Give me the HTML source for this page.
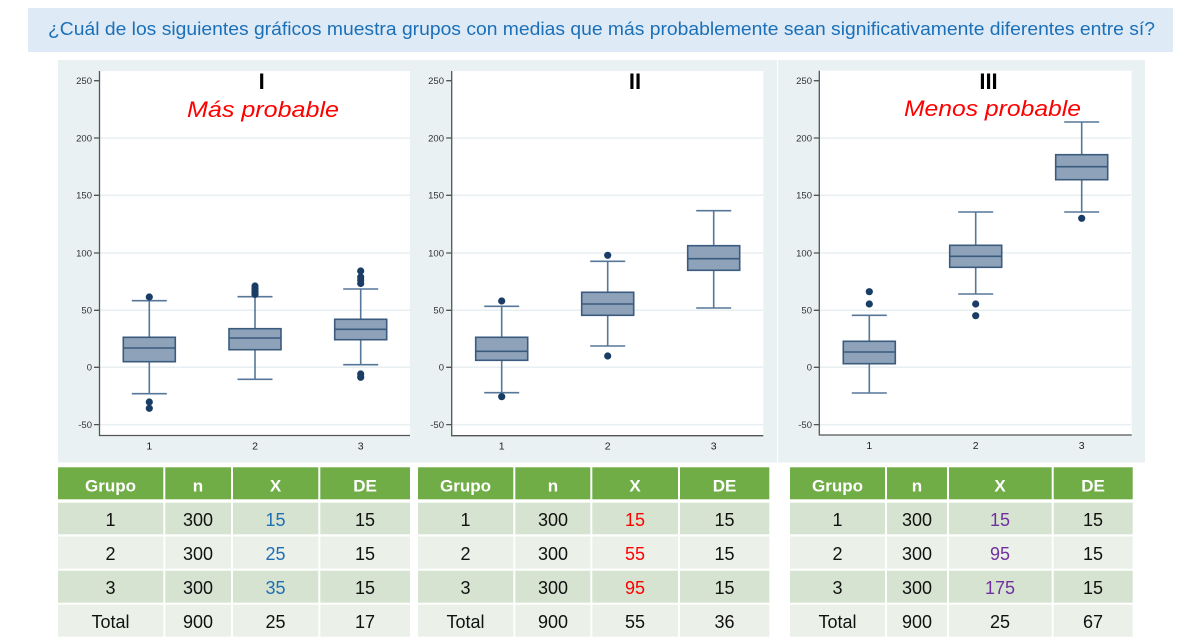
<!DOCTYPE html>
<html><head><meta charset="utf-8"><style>
html,body{margin:0;padding:0;background:#fff;}
svg{display:block;}
</style></head><body>
<svg width="1187" height="644" viewBox="0 0 1187 644" xmlns="http://www.w3.org/2000/svg">
<rect x="0" y="0" width="1187" height="644" fill="#ffffff"/>
<!-- Banner -->
<rect x="28" y="8" width="1145" height="44" fill="#deeaf5"/>
<text x="48" y="35" font-family="Liberation Sans, sans-serif" font-size="18.5" fill="#1b70b8" textLength="1107" lengthAdjust="spacingAndGlyphs">¿Cuál de los siguientes gráficos muestra grupos con medias que más probablemente sean significativamente diferentes entre sí?</text>

<!-- Panel background -->
<rect x="58" y="60" width="1087" height="402.5" fill="#e9f1f3"/>
<line x1="777.5" y1="60" x2="777.5" y2="462.5" stroke="#ffffff" stroke-width="1.2"/>

<!-- Plot areas -->
<rect x="99.5" y="71" width="310.5" height="364.5" fill="#ffffff"/>
<rect x="451.7" y="71" width="311.6" height="364.7" fill="#ffffff"/>
<rect x="819.3" y="70.7" width="312.4" height="364.3" fill="#ffffff"/>

<g stroke="#e8eff2" stroke-width="1.5">
  <!-- chart I grid -->
  <line x1="100" y1="138" x2="410" y2="138"/><line x1="100" y1="195.3" x2="410" y2="195.3"/>
  <line x1="100" y1="253" x2="410" y2="253"/><line x1="100" y1="310.3" x2="410" y2="310.3"/>
  <line x1="100" y1="367.3" x2="410" y2="367.3"/><line x1="100" y1="424.6" x2="410" y2="424.6"/>
  <!-- chart II grid -->
  <line x1="452" y1="138" x2="763" y2="138"/><line x1="452" y1="195.3" x2="763" y2="195.3"/>
  <line x1="452" y1="253" x2="763" y2="253"/><line x1="452" y1="310.3" x2="763" y2="310.3"/>
  <line x1="452" y1="367.3" x2="763" y2="367.3"/><line x1="452" y1="424.6" x2="763" y2="424.6"/>
  <!-- chart III grid -->
  <line x1="820" y1="138" x2="1131" y2="138"/><line x1="820" y1="195.3" x2="1131" y2="195.3"/>
  <line x1="820" y1="253" x2="1131" y2="253"/><line x1="820" y1="310.3" x2="1131" y2="310.3"/>
  <line x1="820" y1="367.3" x2="1131" y2="367.3"/><line x1="820" y1="424.6" x2="1131" y2="424.6"/>
</g>

<!-- Axes -->
<g stroke="#555" stroke-width="1.3" fill="none">
  <polyline points="99.5,71 99.5,435.5 410,435.5"/>
  <polyline points="451.7,71 451.7,435.7 763.3,435.7"/>
  <polyline points="819.3,70.7 819.3,435 1131.7,435"/>
  <!-- ticks -->
  <path d="M94,80.7H99.5M94,138H99.5M94,195.3H99.5M94,253H99.5M94,310.3H99.5M94,367.3H99.5M94,424.6H99.5"/>
  <path d="M446.2,80.7H451.7M446.2,138H451.7M446.2,195.3H451.7M446.2,253H451.7M446.2,310.3H451.7M446.2,367.3H451.7M446.2,424.6H451.7"/>
  <path d="M813.8,80.7H819.3M813.8,138H819.3M813.8,195.3H819.3M813.8,253H819.3M813.8,310.3H819.3M813.8,367.3H819.3M813.8,424.6H819.3"/>
</g>

<!-- Tick labels -->
<g font-family="Liberation Sans, sans-serif" font-size="9.5" fill="#333" text-anchor="end">
  <text x="92" y="84">250</text><text x="92" y="141.3">200</text><text x="92" y="198.6">150</text>
  <text x="92" y="256.3">100</text><text x="92" y="313.6">50</text><text x="92" y="370.6">0</text><text x="92" y="427.9">-50</text>
  <text x="444" y="84">250</text><text x="444" y="141.3">200</text><text x="444" y="198.6">150</text>
  <text x="444" y="256.3">100</text><text x="444" y="313.6">50</text><text x="444" y="370.6">0</text><text x="444" y="427.9">-50</text>
  <text x="812" y="84">250</text><text x="812" y="141.3">200</text><text x="812" y="198.6">150</text>
  <text x="812" y="256.3">100</text><text x="812" y="313.6">50</text><text x="812" y="370.6">0</text><text x="812" y="427.9">-50</text>
</g>
<g font-family="Liberation Sans, sans-serif" font-size="10.5" fill="#222" text-anchor="middle">
  <text x="149.3" y="449.5">1</text><text x="255" y="449.5">2</text><text x="360.7" y="449.5">3</text>
  <text x="501.7" y="449.5">1</text><text x="607.7" y="449.5">2</text><text x="713.7" y="449.5">3</text>
  <text x="869.3" y="449">1</text><text x="975.7" y="449">2</text><text x="1081.7" y="449">3</text>
</g>

<!-- Titles -->
<g font-family="Liberation Sans, sans-serif" font-size="22" font-weight="bold" fill="#000" text-anchor="middle">
  <text x="261.7" y="89">I</text>
  <text x="635" y="89">II</text>
  <text x="988.5" y="89">III</text>
</g>
<g font-family="Liberation Sans, sans-serif" font-size="22" fill="#ff0000" font-style="italic">
  <text x="187" y="117" textLength="152" lengthAdjust="spacingAndGlyphs">Más probable</text>
  <text x="904" y="116" textLength="177" lengthAdjust="spacingAndGlyphs">Menos probable</text>
</g>

<!-- Whiskers -->
<g stroke="#56779a" stroke-width="1.6" fill="none">
  <!-- Chart I -->
  <path d="M149.3,300.7V337.3M149.3,361.7V393.7M131.8,300.7H166.8M131.8,393.7H166.8"/>
  <path d="M255,296.7V328.7M255,349.7V379.3M237.5,296.7H272.5M237.5,379.3H272.5"/>
  <path d="M360.7,289V319.3M360.7,339.7V364.7M343.2,289H378.2M343.2,364.7H378.2"/>
  <!-- Chart II -->
  <path d="M501.7,306.3V337.3M501.7,360.3V392.7M484.2,306.3H519.2M484.2,392.7H519.2"/>
  <path d="M607.7,261.3V292.3M607.7,315.3V346M590.2,261.3H625.2M590.2,346H625.2"/>
  <path d="M713.7,210.7V245.7M713.7,270.3V308M696.2,210.7H731.2M696.2,308H731.2"/>
  <!-- Chart III -->
  <path d="M869.3,315.3V341.3M869.3,363.7V393M851.8,315.3H886.8M851.8,393H886.8"/>
  <path d="M975.7,212V245.3M975.7,267.3V294M958.2,212H993.2M958.2,294H993.2"/>
  <path d="M1081.7,122V154.7M1081.7,179.7V212M1064.2,122H1099.2M1064.2,212H1099.2"/>
</g>

<!-- Boxes -->
<g fill="#8ea3ba" stroke="#3b5b7e" stroke-width="1.6">
  <rect x="123.3" y="337.3" width="52" height="24.4"/>
  <rect x="229" y="328.7" width="52" height="21"/>
  <rect x="334.7" y="319.3" width="52" height="20.4"/>
  <rect x="475.7" y="337.3" width="52" height="23"/>
  <rect x="581.7" y="292.3" width="52" height="23"/>
  <rect x="687.7" y="245.7" width="52" height="24.6"/>
  <rect x="843.3" y="341.3" width="52" height="22.4"/>
  <rect x="949.7" y="245.3" width="52" height="22"/>
  <rect x="1055.7" y="154.7" width="52" height="25"/>
</g>
<g stroke="#3b5b7e" stroke-width="1.6">
  <line x1="123.3" y1="348" x2="175.3" y2="348"/>
  <line x1="229" y1="338" x2="281" y2="338"/>
  <line x1="334.7" y1="329.3" x2="386.7" y2="329.3"/>
  <line x1="475.7" y1="351.3" x2="527.7" y2="351.3"/>
  <line x1="581.7" y1="304" x2="633.7" y2="304"/>
  <line x1="687.7" y1="258.7" x2="739.7" y2="258.7"/>
  <line x1="843.3" y1="352" x2="895.3" y2="352"/>
  <line x1="949.7" y1="256.3" x2="1001.7" y2="256.3"/>
  <line x1="1055.7" y1="166.7" x2="1107.7" y2="166.7"/>
</g>

<!-- Outliers -->
<g fill="#1a3d66">
  <circle cx="149.3" cy="297" r="3.6"/><circle cx="149.3" cy="402" r="3.6"/><circle cx="149.3" cy="408.3" r="3.6"/>
  <circle cx="255" cy="286" r="3.6"/><circle cx="255" cy="288.5" r="3.6"/><circle cx="255" cy="291" r="3.6"/><circle cx="255" cy="293" r="3.6"/><circle cx="255" cy="294.5" r="3.6"/>
  <circle cx="360.7" cy="271" r="3.6"/><circle cx="360.7" cy="277" r="3.6"/><circle cx="360.7" cy="280" r="3.6"/><circle cx="360.7" cy="283.5" r="3.6"/>
  <circle cx="360.7" cy="374" r="3.6"/><circle cx="360.7" cy="377.3" r="3.6"/>
  <circle cx="501.7" cy="301" r="3.6"/><circle cx="501.7" cy="396.7" r="3.6"/>
  <circle cx="607.7" cy="255.3" r="3.6"/><circle cx="607.7" cy="356" r="3.6"/>
  <circle cx="869.3" cy="291.7" r="3.6"/><circle cx="869.3" cy="304" r="3.6"/>
  <circle cx="975.7" cy="304" r="3.6"/><circle cx="975.7" cy="315.7" r="3.6"/>
  <circle cx="1081.7" cy="218.3" r="3.6"/>
</g>

<!-- Tables -->
<!-- Table 1 -->
<g>
  <g fill="#70ad47">
    <rect x="58" y="467.3" width="105.3" height="32"/><rect x="165.3" y="467.3" width="65.7" height="32"/>
    <rect x="233" y="467.3" width="85.3" height="32"/><rect x="320.3" y="467.3" width="89.7" height="32"/>
    <rect x="418" y="467.3" width="95.3" height="32"/><rect x="515.3" y="467.3" width="75" height="32"/>
    <rect x="592.3" y="467.3" width="85.7" height="32"/><rect x="680" y="467.3" width="89.3" height="32"/>
    <rect x="790" y="467.3" width="95" height="32"/><rect x="887" y="467.3" width="60" height="32"/>
    <rect x="949" y="467.3" width="102.7" height="32"/><rect x="1053.7" y="467.3" width="79" height="32"/>
  </g>
  <g fill="#d6e3d0">
    <rect x="58" y="502.7" width="105.3" height="31.6"/><rect x="165.3" y="502.7" width="65.7" height="31.6"/>
    <rect x="233" y="502.7" width="85.3" height="31.6"/><rect x="320.3" y="502.7" width="89.7" height="31.6"/>
    <rect x="58" y="570.7" width="105.3" height="32"/><rect x="165.3" y="570.7" width="65.7" height="32"/>
    <rect x="233" y="570.7" width="85.3" height="32"/><rect x="320.3" y="570.7" width="89.7" height="32"/>
    <rect x="418" y="502.7" width="95.3" height="31.6"/><rect x="515.3" y="502.7" width="75" height="31.6"/>
    <rect x="592.3" y="502.7" width="85.7" height="31.6"/><rect x="680" y="502.7" width="89.3" height="31.6"/>
    <rect x="418" y="570.7" width="95.3" height="32"/><rect x="515.3" y="570.7" width="75" height="32"/>
    <rect x="592.3" y="570.7" width="85.7" height="32"/><rect x="680" y="570.7" width="89.3" height="32"/>
    <rect x="790" y="502.7" width="95" height="31.6"/><rect x="887" y="502.7" width="60" height="31.6"/>
    <rect x="949" y="502.7" width="102.7" height="31.6"/><rect x="1053.7" y="502.7" width="79" height="31.6"/>
    <rect x="790" y="570.7" width="95" height="32"/><rect x="887" y="570.7" width="60" height="32"/>
    <rect x="949" y="570.7" width="102.7" height="32"/><rect x="1053.7" y="570.7" width="79" height="32"/>
  </g>
  <g fill="#ebf1e9">
    <rect x="58" y="536.5" width="105.3" height="32.2"/><rect x="165.3" y="536.5" width="65.7" height="32.2"/>
    <rect x="233" y="536.5" width="85.3" height="32.2"/><rect x="320.3" y="536.5" width="89.7" height="32.2"/>
    <rect x="58" y="604.7" width="105.3" height="32"/><rect x="165.3" y="604.7" width="65.7" height="32"/>
    <rect x="233" y="604.7" width="85.3" height="32"/><rect x="320.3" y="604.7" width="89.7" height="32"/>
    <rect x="418" y="536.5" width="95.3" height="32.2"/><rect x="515.3" y="536.5" width="75" height="32.2"/>
    <rect x="592.3" y="536.5" width="85.7" height="32.2"/><rect x="680" y="536.5" width="89.3" height="32.2"/>
    <rect x="418" y="604.7" width="95.3" height="32"/><rect x="515.3" y="604.7" width="75" height="32"/>
    <rect x="592.3" y="604.7" width="85.7" height="32"/><rect x="680" y="604.7" width="89.3" height="32"/>
    <rect x="790" y="536.5" width="95" height="32.2"/><rect x="887" y="536.5" width="60" height="32.2"/>
    <rect x="949" y="536.5" width="102.7" height="32.2"/><rect x="1053.7" y="536.5" width="79" height="32.2"/>
    <rect x="790" y="604.7" width="95" height="32"/><rect x="887" y="604.7" width="60" height="32"/>
    <rect x="949" y="604.7" width="102.7" height="32"/><rect x="1053.7" y="604.7" width="79" height="32"/>
  </g>
</g>

<!-- Table headers -->
<g font-family="Liberation Sans, sans-serif" font-size="17" font-weight="bold" fill="#ffffff" text-anchor="middle">
  <text x="110.5" y="491.5">Grupo</text><text x="198" y="491.5">n</text><text x="275.5" y="491.5">X</text><text x="365" y="491.5">DE</text>
  <text x="465.5" y="491.5">Grupo</text><text x="553" y="491.5">n</text><text x="635" y="491.5">X</text><text x="724.5" y="491.5">DE</text>
  <text x="837.5" y="491.5">Grupo</text><text x="917" y="491.5">n</text><text x="1000" y="491.5">X</text><text x="1093" y="491.5">DE</text>
</g>
<!-- Table bodies -->
<g font-family="Liberation Sans, sans-serif" font-size="18" fill="#111" text-anchor="middle">
  <text x="110.5" y="526">1</text><text x="198" y="526">300</text><text x="365" y="526">15</text>
  <text x="110.5" y="560">2</text><text x="198" y="560">300</text><text x="365" y="560">15</text>
  <text x="110.5" y="594">3</text><text x="198" y="594">300</text><text x="365" y="594">15</text>
  <text x="110.5" y="628">Total</text><text x="198" y="628">900</text><text x="275.5" y="628">25</text><text x="365" y="628">17</text>

  <text x="465.5" y="526">1</text><text x="553" y="526">300</text><text x="724.5" y="526">15</text>
  <text x="465.5" y="560">2</text><text x="553" y="560">300</text><text x="724.5" y="560">15</text>
  <text x="465.5" y="594">3</text><text x="553" y="594">300</text><text x="724.5" y="594">15</text>
  <text x="465.5" y="628">Total</text><text x="553" y="628">900</text><text x="635" y="628">55</text><text x="724.5" y="628">36</text>

  <text x="837.5" y="526">1</text><text x="917" y="526">300</text><text x="1093" y="526">15</text>
  <text x="837.5" y="560">2</text><text x="917" y="560">300</text><text x="1093" y="560">15</text>
  <text x="837.5" y="594">3</text><text x="917" y="594">300</text><text x="1093" y="594">15</text>
  <text x="837.5" y="628">Total</text><text x="917" y="628">900</text><text x="1000" y="628">25</text><text x="1093" y="628">67</text>
</g>
<g font-family="Liberation Sans, sans-serif" font-size="18" text-anchor="middle">
  <g fill="#1f6fb4"><text x="275.5" y="526">15</text><text x="275.5" y="560">25</text><text x="275.5" y="594">35</text></g>
  <g fill="#ff0000"><text x="635" y="526">15</text><text x="635" y="560">55</text><text x="635" y="594">95</text></g>
  <g fill="#7030a0"><text x="1000" y="526">15</text><text x="1000" y="560">95</text><text x="1000" y="594">175</text></g>
</g>
</svg>
</body></html>
